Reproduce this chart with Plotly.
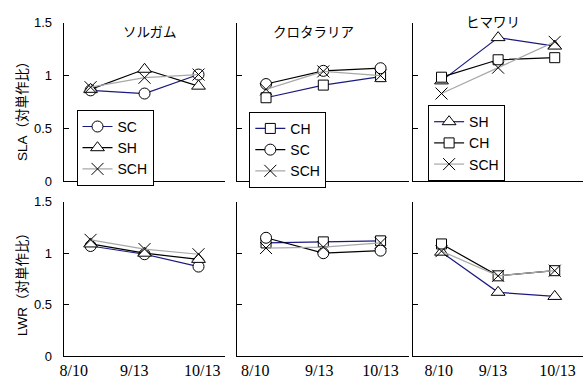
import plotly.graph_objects as go

# ---------------- data ----------------
dates = ["8/10", "9/13", "10/13"]
crops = ["ソルガム", "クロタラリア", "ヒマワリ"]
y_ticks = [0, 0.5, 1, 1.5]
y_tick_text = ["0", "0.5", "1", "1.5"]

# SLA (relative to monoculture)
sla_sorghum_SC = [0.86, 0.83, 1.01]
sla_sorghum_SH = [0.87, 1.06, 0.90]
sla_sorghum_SCH = [0.89, 0.98, 1.01]
sla_crot_CH = [0.79, 0.91, 0.99]
sla_crot_SC = [0.92, 1.045, 1.07]
sla_crot_SCH = [0.87, 1.04, 1.00]
sla_sun_SH = [0.95, 1.36, 1.28]
sla_sun_CH = [0.985, 1.15, 1.17]
sla_sun_SCH = [0.83, 1.075, 1.32]

# LWR (relative to monoculture)
lwr_sorghum_SC = [1.07, 0.99, 0.87]
lwr_sorghum_SH = [1.09, 1.00, 0.94]
lwr_sorghum_SCH = [1.13, 1.04, 0.99]
lwr_crot_CH = [1.10, 1.11, 1.12]
lwr_crot_SC = [1.15, 1.00, 1.025]
lwr_crot_SCH = [1.05, 1.06, 1.10]
lwr_sun_SH = [1.01, 0.62, 0.58]
lwr_sun_CH = [1.09, 0.78, 0.83]
lwr_sun_SCH = [1.02, 0.78, 0.83]

# ---------------- styles ----------------
NAVY = "#1a1a80"
BLACK = "#000000"
GRAY = "#a8a8a8"
SYM = {"SC": ("circle", 11), "SH": ("triangle-up", 12), "CH": ("square", 10), "SCH": ("x-thin-open", 12)}

x_idx = list(range(len(dates)))

panels = [
    (1, 1, [("SC", sla_sorghum_SC, NAVY), ("SH", sla_sorghum_SH, BLACK), ("SCH", sla_sorghum_SCH, GRAY)]),
    (1, 2, [("CH", sla_crot_CH, NAVY), ("SC", sla_crot_SC, BLACK), ("SCH", sla_crot_SCH, GRAY)]),
    (1, 3, [("SH", sla_sun_SH, NAVY), ("CH", sla_sun_CH, BLACK), ("SCH", sla_sun_SCH, GRAY)]),
    (2, 1, [("SC", lwr_sorghum_SC, NAVY), ("SH", lwr_sorghum_SH, BLACK), ("SCH", lwr_sorghum_SCH, GRAY)]),
    (2, 2, [("CH", lwr_crot_CH, NAVY), ("SC", lwr_crot_SC, BLACK), ("SCH", lwr_crot_SCH, GRAY)]),
    (2, 3, [("SH", lwr_sun_SH, NAVY), ("CH", lwr_sun_CH, BLACK), ("SCH", lwr_sun_SCH, GRAY)]),
]

W, H = 588, 392
x_domains = [(60 / W, 223 / W), (235 / W, 408 / W), (412 / W, 583 / W)]
y_domains = {1: (1 - 181 / H, 1 - 16.5 / H), 2: (1 - 363 / H, 1 - 202.5 / H)}
label_shift = {1: [-0.31, -0.19, 0.07], 2: [-0.19, -0.07, 0.0], 3: [-0.05, -0.09, 0.05]}

SANS = "Liberation Sans, Arial, sans-serif"
CJK = "Noto Sans CJK JP, sans-serif"

fig = go.Figure()
layout = dict(
    width=W, height=H,
    margin=dict(l=0, r=0, t=0, b=0),
    paper_bgcolor="white", plot_bgcolor="white",
    font=dict(family=SANS, size=13, color="black"),
    annotations=[],
)

legend_pos = {1: (73 / W, 1 - 107 / H), 2: (247 / W, 1 - 109 / H), 3: (427 / W, 1 - 102 / H)}

for k, (row, col, series) in enumerate(panels, start=1):
    xa = f"x{k}" if k > 1 else "x"
    ya = f"y{k}" if k > 1 else "y"
    for name, vals, color in series:
        sym, size = SYM[name]
        mcolor = BLACK if name == "SCH" else "white"
        tr = dict(
            x=x_idx, y=vals, xaxis=xa, yaxis=ya, name=name, mode="lines+markers",
            line=dict(color=color, width=1.2),
            marker=dict(symbol=sym, size=size, color=mcolor, line=dict(color=BLACK, width=1)),
            showlegend=(row == 1),
            legendgroup=f"g{k}{name}",
        )
        if row == 1:
            tr["legend"] = "legend" if col == 1 else f"legend{col}"
        fig.add_trace(go.Scatter(**tr))

    xkey = "xaxis" if k == 1 else f"xaxis{k}"
    ykey = "yaxis" if k == 1 else f"yaxis{k}"
    layout[xkey] = dict(
        domain=x_domains[col - 1], anchor=ya, range=[-0.5, 2.5],
        showgrid=False, zeroline=False, showline=True, linecolor="black", linewidth=1,
        ticks="", showticklabels=(row == 2),
        tickvals=[i + s for i, s in zip(x_idx, label_shift[col])], ticktext=dates,
        tickfont=dict(family="Liberation Serif, Times New Roman, serif", size=16, color="black"),
    )
    layout[ykey] = dict(
        domain=y_domains[row], anchor=xa, range=[0, 1.5],
        showgrid=False, zeroline=False, showline=True, linecolor="black", linewidth=1,
        ticks="inside", ticklen=5, tickcolor="black", tickwidth=1,
        tickvals=y_ticks, ticktext=y_tick_text, showticklabels=(col == 1),
        ticklabelstandoff=8,
        tickfont=dict(family=SANS, size=13, color="black"),
    )

for col in (1, 2, 3):
    key = "legend" if col == 1 else f"legend{col}"
    lx, ly = legend_pos[col]
    layout[key] = dict(
        x=lx, y=ly, xanchor="left", yanchor="top", xref="paper", yref="paper",
        bgcolor="white", bordercolor="black", borderwidth=1,
        font=dict(family=SANS, size=14, color="black"),
        traceorder="grouped", tracegroupgap=0, itemwidth=30,
    )

title_pos = [(147, 25), (312, 25), (492, 15)]
for (cx, cy), name in zip(title_pos, crops):
    layout["annotations"].append(dict(
        text=name, x=cx / W, y=1 - cy / H, xref="paper", yref="paper",
        showarrow=False, xanchor="center", yanchor="middle",
        font=dict(family=CJK, size=13.5, color="black"),
    ))

for txt, cy in [("SLA（対単作比）", 104), ("LWR（対単作比）", 285)]:
    layout["annotations"].append(dict(
        text=txt, x=18 / W, y=1 - cy / H, xref="paper", yref="paper",
        showarrow=False, textangle=-90, xanchor="center", yanchor="middle",
        font=dict(family="Liberation Sans, Noto Sans CJK JP, sans-serif", size=13.5, color="black"),
    ))

fig.update_layout(**layout)
fig.write_html(
    "out.html",
    config={"displayModeBar": False},
    post_script="document.body.style.margin='0';document.body.style.padding='0';document.body.style.overflow='hidden';",
)
